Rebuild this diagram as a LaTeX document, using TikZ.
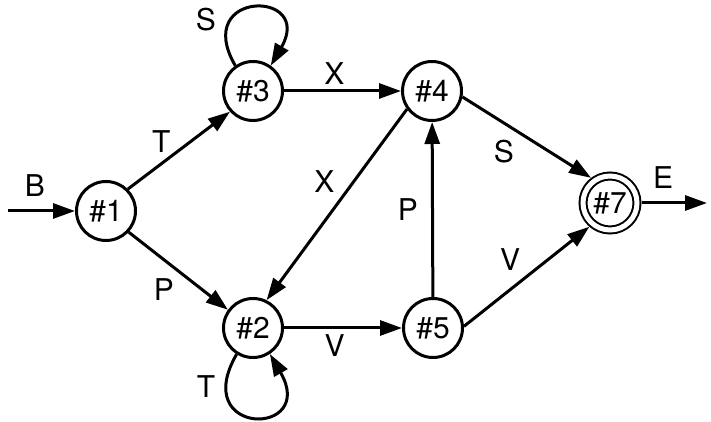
\documentclass[tikz,border=0pt]{standalone}
\usepackage{fontspec}
\setmainfont{TeX Gyre Heros}
\usetikzlibrary{positioning,arrows.meta}

\begin{document}
\begin{tikzpicture}[x=0.5pt,y=0.5pt,on grid,line width=1.5pt,
                    >={Triangle[length=11pt,width=7.5pt]},
                    font=\fontsize{15}{18}\selectfont,
                    state/.style={circle,draw,minimum size=29.5pt,inner sep=0pt},
                    accept/.style={state,double,double distance=2.5pt,line width=1pt,
                                   minimum size=27pt,outer sep=2.25pt}]
  \useasboundingbox (0,0) rectangle (711,422);
  \node[state] (1) at (106,211) {\#1};
  \node[state] (3) [above right=60pt and 73.5pt of 1] {\#3};
  \node[state] (4) [right=89.5pt of 3] {\#4};
  \node[state] (2) [below=118.5pt of 3] {\#2};
  \node[state] (5) [right=90pt of 2] {\#5};
  \node[accept] (7) [below right=56pt and 89pt of 4] {\#7};
  \coordinate[left=49pt of 1] (start);
  \coordinate[right=48.5pt of 7] (stop);

  \path[->,every node/.style={inner sep=2.5pt}]
    (start)  edge node [pos=0.4,above=4pt] {B} (1)
    (1.45)   edge node [pos=0.44,above left=-3pt] {T} (3.-138)
    (1.-43)  edge node [pos=0.52,below left] {P} (2.144)
    (3.125)  edge [out=120,in=60,distance=44pt] node [pos=0.28,left=4pt] {S} (3.55)
    (3)      edge node [pos=0.43,above] {X} (4)
    (4.-144) edge node [pos=0.47,above left] {X} (2.64)
    (4.-11)  edge node [pos=0.45,below left] {S} (7.127)
    (2.-122) edge [out=-120,in=-60,distance=48pt] node [pos=0.15,left=2pt] {T} (2.-57)
    (2)      edge node [pos=0.43,below] {V} (5)
    (5)      edge node [left=4pt] {P} (4)
    (5.3)    edge node [pos=0.5,above left] {V} (7.-131)
    (7)      edge node [pos=0.33,above=4pt] {E} (stop);

\end{tikzpicture}
\end{document}
